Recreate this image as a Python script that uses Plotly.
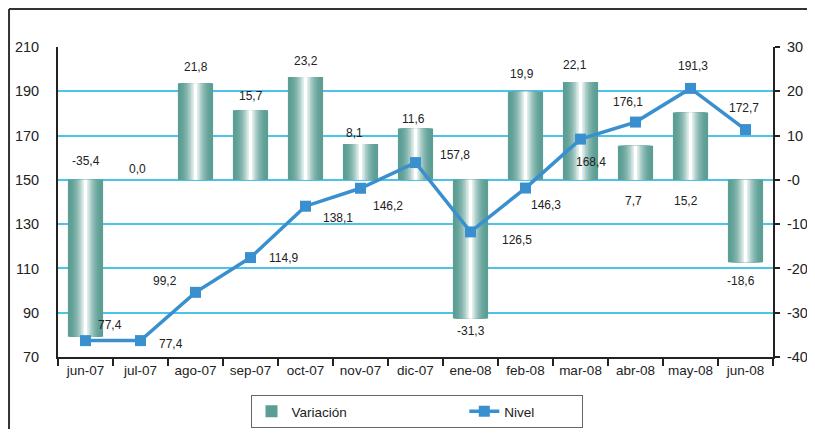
import plotly.graph_objects as go

# ---- data ----
meses = ["jun-07", "jul-07", "ago-07", "sep-07", "oct-07", "nov-07", "dic-07",
         "ene-08", "feb-08", "mar-08", "abr-08", "may-08", "jun-08"]
variacion = [-35.4, 0.0, 21.8, 15.7, 23.2, 8.1, 11.6, -31.3, 19.9, 22.1, 7.7, 15.2, -18.6]
nivel = [77.4, 77.4, 99.2, 114.9, 138.1, 146.2, 157.8, 126.5, 146.3, 168.4, 176.1, 191.3, 172.7]
left_ticks = [70, 90, 110, 130, 150, 170, 190, 210]
right_ticks = [-40, -30, -20, -10, 0, 10, 20, 30]
right_ticktext = ["-40", "-30", "-20", "-10", "-0", "10", "20", "30"]

def fmt(v):
    return f"{v:.1f}".replace(".", ",")

# ---- label placement (style) ----
var_anchor = ["zero", "zero", "end", "end", "end", "end", "end", "end", "end", "end", "zero", "zero", "end"]
var_dy = [19, 11, 16, 14, 16, 11, 9, -13, 18, 17, -21, -21, -19]
var_dx = [0, -3, 0, 0, 0, -6, -2, 0, -4, -6, -2, -5, -5]
niv_dx = [24, 30, -31, 33, 32, 27, 39, 46, 20, 10, -8, 2, -2]
niv_dy = [16, -3, 11, 0, -12, -18, 8, -8, -17, -23, 20, 22, 22]

edge = (92, 158, 148)
N = 12
BW = 0.64
NB = "\u00a0"

fig = go.Figure()
for i in range(N):
    f = (i / (N - 1)) ** 2
    c = tuple(int(round(edge[k] + (255 - edge[k]) * f)) for k in range(3))
    fig.add_trace(go.Bar(
        x=meses, y=variacion, width=BW * (1 - i / N),
        marker=dict(color=f"rgb{c}", line=dict(width=0)),
        name="Variación" + NB * 30, showlegend=(i == 0), yaxis="y",
        hoverinfo="skip" if i else None,
    ))

fig.add_trace(go.Scatter(
    x=meses, y=nivel, mode="lines+markers", name="Nivel" + NB * 11, yaxis="y2",
    line=dict(color="#3a90cf", width=3.5),
    marker=dict(symbol="square", size=11, color="#3a90cf"),
))

ann = []
for i, m in enumerate(meses):
    yv = 0 if var_anchor[i] == "zero" else variacion[i]
    ann.append(dict(x=m, y=yv, xref="x", yref="y", text=fmt(variacion[i]),
                    showarrow=False, xshift=var_dx[i], yshift=var_dy[i],
                    font=dict(size=12, color="#222")))
    ann.append(dict(x=m, y=nivel[i], xref="x", yref="y2", text=fmt(nivel[i]),
                    showarrow=False, xshift=niv_dx[i], yshift=niv_dy[i],
                    font=dict(size=12, color="#222")))

fig.update_layout(
    width=799, height=421,
    margin=dict(l=50, r=34, t=39, b=72, autoexpand=False),
    paper_bgcolor="white", plot_bgcolor="white",
    barmode="overlay", bargap=0.36,
    font=dict(family="Liberation Sans, Arial, sans-serif", color="#222", size=13),
    xaxis=dict(type="category", showgrid=False, showline=True, linecolor="#222", linewidth=2,
               ticks="outside", ticklen=7, tickwidth=1.5, tickcolor="#222", tickangle=0,
               tickson="boundaries", tickfont=dict(size=13.5), range=[-0.5, 12.5]),
    yaxis=dict(side="right", range=[-40, 30], tickvals=right_ticks, ticktext=right_ticktext,
               showgrid=True, gridcolor="#4cc3ea", gridwidth=1.5, zeroline=False,
               showline=True, linecolor="#222", linewidth=2,
               ticks="outside", ticklen=5, tickwidth=1.5, tickcolor="#222",
               tickfont=dict(size=14.5), ticklabelstandoff=4),
    yaxis2=dict(overlaying="y", side="left", range=[70, 210], tickvals=left_ticks,
                showgrid=False, zeroline=False, showline=True, linecolor="#222", linewidth=2,
                ticks="", tickfont=dict(size=14.5), ticklabelstandoff=14),
    legend=dict(orientation="h", x=0.5014, xanchor="center",
                yref="container", y=1 - 387 / 421, yanchor="top",
                bordercolor="#666", borderwidth=1, bgcolor="white",
                font=dict(size=13.5), traceorder="normal"),
    annotations=ann,
    shapes=[
        dict(type="line", xref="paper", yref="paper", x0=-0.0685, y0=1.1226,
             x1=1.2, y1=1.1226, line=dict(color="#333", width=2), layer="below"),
        dict(type="line", xref="paper", yref="paper", x0=-0.0685, y0=1.1226,
             x1=-0.0685, y1=-0.3, line=dict(color="#333", width=2), layer="below"),
    ],
    showlegend=True,
)

fig.write_html("out.html")
